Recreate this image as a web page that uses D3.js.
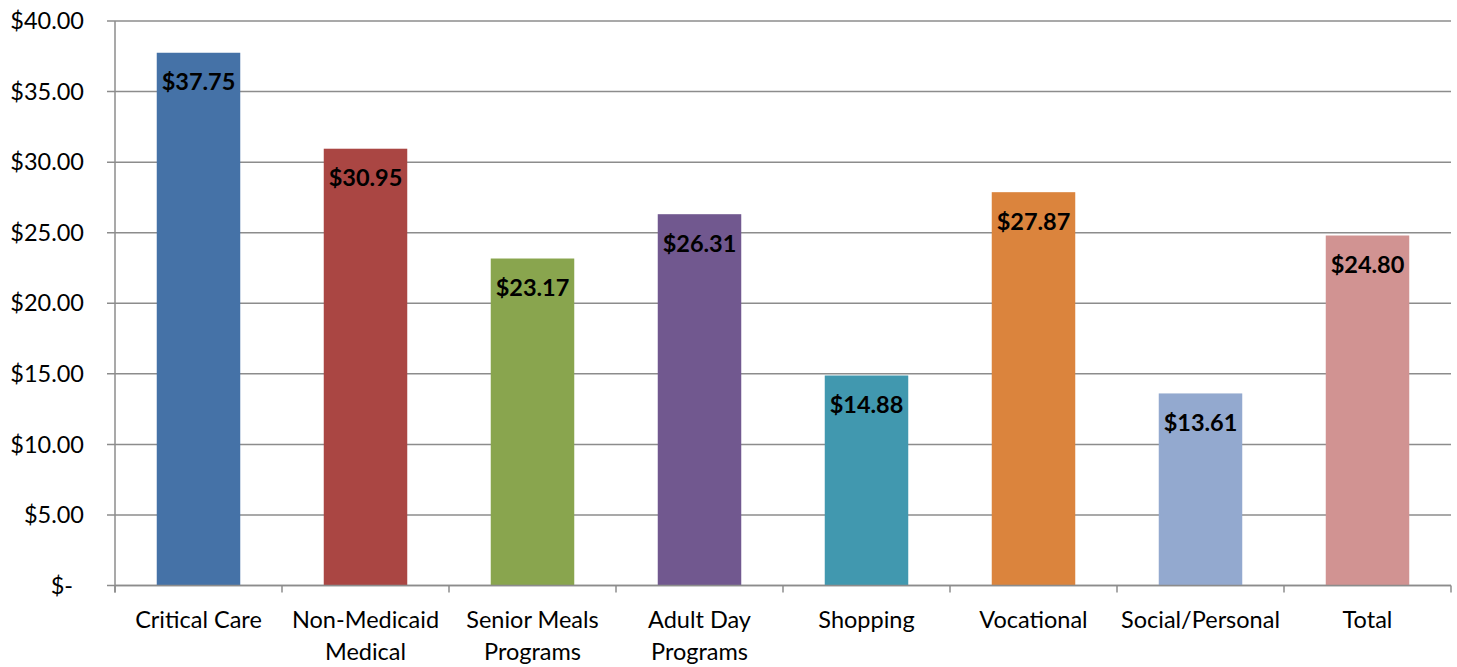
<!DOCTYPE html>
<html>
<head>
<meta charset="utf-8">
<script src="https://cdn.jsdelivr.net/npm/d3@7"></script>
<style>
  body { margin: 0; background: #fff; }
  svg text { font-family: Lato, "Open Sans", sans-serif; fill: #000; }
</style>
</head>
<body>
<div id="chart"></div>
<script>
// categories / values
const categories = [
  ["Critical Care"],
  ["Non-Medicaid", "Medical"],
  ["Senior Meals", "Programs"],
  ["Adult Day", "Programs"],
  ["Shopping"],
  ["Vocational"],
  ["Social/Personal"],
  ["Total"]
];
const values = [37.75, 30.95, 23.17, 26.31, 14.88, 27.87, 13.61, 24.80];
const barColors = ["#4572A7", "#AA4643", "#89A54E", "#71588F", "#4198AF", "#DB843D", "#93A9CF", "#D19392"];
const yTicks = [0, 5, 10, 15, 20, 25, 30, 35, 40];

const w = 1457, h = 667;
const padL = 115, padR = 1451, padT = 21, padB = 585.5;

const svg = d3.select("#chart").append("svg")
  .attr("width", w)
  .attr("height", h);

const xScale = d3.scaleBand()
  .domain(d3.range(values.length))
  .range([padL, padR])
  .paddingInner(0.5)
  .paddingOuter(0.25);

const yScale = d3.scaleLinear()
  .domain([0, 40])
  .range([padB, padT]);

const fmt = d => d === 0 ? "$-" : "$" + d.toFixed(2);

// grid lines (with small outward tick)
svg.append("g")
  .selectAll("line")
  .data(yTicks)
  .join("line")
  .attr("x1", padL - 8)
  .attr("x2", padR)
  .attr("y1", d => yScale(d))
  .attr("y2", d => yScale(d))
  .attr("stroke", "#8c8c8c")
  .attr("stroke-width", 1.5);

// y labels
svg.append("g")
  .selectAll("text")
  .data(yTicks)
  .join("text")
  .attr("x", d => d === 0 ? 73 : 84)
  .attr("y", d => yScale(d))
  .attr("dy", "0.35em")
  .attr("text-anchor", "end")
  .attr("font-size", 23.5)
  .text(fmt);

// bars
svg.append("g")
  .selectAll("rect")
  .data(values)
  .join("rect")
  .attr("x", (d, i) => xScale(i))
  .attr("width", xScale.bandwidth())
  .attr("y", d => yScale(d))
  .attr("height", d => yScale(0) - yScale(d))
  .attr("fill", (d, i) => barColors[i]);

// y axis line
svg.append("line")
  .attr("x1", padL).attr("x2", padL)
  .attr("y1", padT).attr("y2", padB + 7)
  .attr("stroke", "#8c8c8c")
  .attr("stroke-width", 1.5);

// x axis line + category ticks
svg.append("line")
  .attr("x1", padL).attr("x2", padR)
  .attr("y1", padB).attr("y2", padB)
  .attr("stroke", "#8c8c8c")
  .attr("stroke-width", 1.5);

const step = xScale.step();
svg.append("g")
  .selectAll("line")
  .data(d3.range(values.length + 1))
  .join("line")
  .attr("x1", i => padL + i * step)
  .attr("x2", i => padL + i * step)
  .attr("y1", padB)
  .attr("y2", padB + 7)
  .attr("stroke", "#8c8c8c")
  .attr("stroke-width", 1.5);

// value labels
svg.append("g")
  .selectAll("text")
  .data(values)
  .join("text")
  .attr("x", (d, i) => xScale(i) + xScale.bandwidth() / 2)
  .attr("y", d => yScale(d) + 37.5)
  .attr("text-anchor", "middle")
  .attr("font-size", 23.5)
  .attr("font-weight", "bold")
  .text(d => "$" + d.toFixed(2));

// category labels
const cat = svg.append("g")
  .selectAll("text")
  .data(categories)
  .join("text")
  .attr("x", (d, i) => xScale(i) + xScale.bandwidth() / 2)
  .attr("y", 628)
  .attr("text-anchor", "middle")
  .attr("font-size", 23.5);
cat.selectAll("tspan")
  .data(d => d)
  .join("tspan")
  .attr("x", function() { return this.parentNode.getAttribute("x"); })
  .attr("dy", (d, i) => i === 0 ? 0 : 32)
  .text(d => d);
</script>
</body>
</html>
